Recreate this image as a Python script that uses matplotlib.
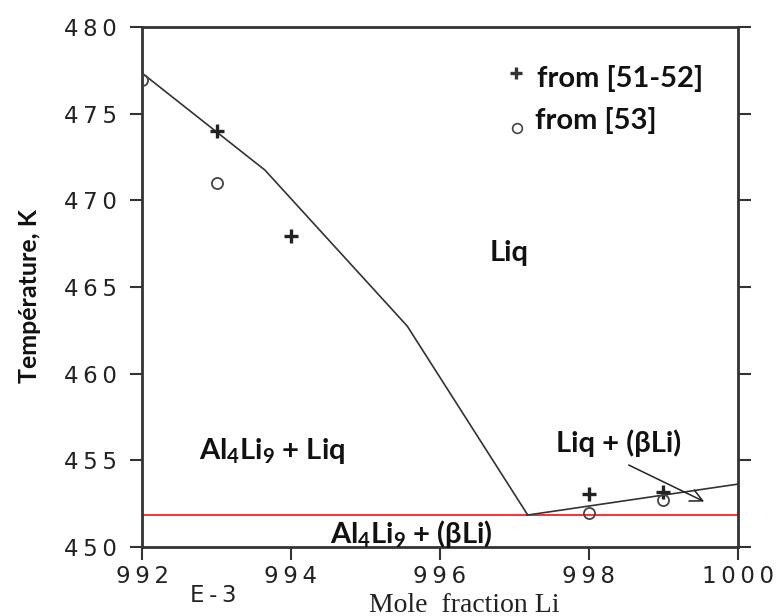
import numpy as np
import matplotlib.pyplot as plt
from matplotlib.ticker import FuncFormatter

plt.rcParams['mathtext.fontset'] = 'custom'
plt.rcParams['mathtext.rm'] = 'Lato:bold'
plt.rcParams['mathtext.it'] = 'Lato:bold'

# liquidus line (mole fraction Li in E-3, temperature K)
liq_x = [992.0, 993.65, 995.56, 997.17]
liq_t = [477.35, 471.75, 462.75, 451.9]
# Liq + (bLi) boundary
beta_x = [997.17, 1000.0]
beta_t = [451.84, 453.63]
# eutectic line
eut_t = 451.84

# experimental points
ref1_x = [993, 994, 998, 999]
ref1_t = [474.0, 467.95, 453.05, 453.15]
ref2_x = [992, 993, 998, 999]
ref2_t = [476.95, 471.0, 451.95, 452.7]

xticks = [992, 994, 996, 998, 1000]
yticks = [450, 455, 460, 465, 470, 475, 480]


def spaced(s):
    return '\u2009'.join(str(s))


fig = plt.figure(figsize=(7.76, 6.16), dpi=100)
ax = fig.add_axes([0.183, 0.112, 0.768, 0.844])

ax.axhline(eut_t, color='#ff2020', lw=1.3, zorder=1)
ax.plot(liq_x, liq_t, color='#333333', lw=1.2, zorder=2)
ax.plot(beta_x, beta_t, color='#333333', lw=1.2, zorder=2)
ax.plot(ref1_x, ref1_t, ls='none', marker='+', ms=10, mew=2.4, color='#222222', zorder=3)
ax.plot(ref2_x, ref2_t, ls='none', marker='o', ms=8, mfc='none', mew=1.3, color='#444444', zorder=3)

ax.set_xlim(992, 1000)
ax.set_ylim(450, 480)
ax.set_xticks(xticks)
ax.set_yticks(yticks)
ax.xaxis.set_major_formatter(FuncFormatter(lambda v, p: spaced(int(round(v)))))
ax.yaxis.set_major_formatter(FuncFormatter(lambda v, p: spaced(int(round(v)))))
for s in ax.spines.values():
    s.set_linewidth(2)
    s.set_color('#333333')
ax.tick_params(direction='out', length=9, width=1.5, color='#333333',
               labelsize=16.5, labelcolor='#222222')
ax.tick_params(axis='y', right=True, pad=9)
ax.tick_params(axis='x', pad=4)
for lab in ax.get_xticklabels() + ax.get_yticklabels():
    lab.set_family('DejaVu Sans')

bold = dict(family='Lato', fontweight='bold', fontsize=21, color='#111111')
ax.text(996.93, 466.95, 'Liq', ha='center', va='center', **bold)
ax.text(993.75, 455.55, r'Al$_4$Li$_9$ + Liq', ha='center', va='center', **bold)
ax.text(998.4, 456.0, 'Liq + (βLi)', ha='center', va='center', **bold)
ax.text(995.62, 450.75, r'Al$_4$Li$_9$ + (βLi)', ha='center', va='center', **bold)

ax.annotate('', xy=(999.58, 452.55), xytext=(998.5, 454.8),
            arrowprops=dict(arrowstyle='->', color='#222222', lw=1.1,
                            mutation_scale=22))

# legend
ax.plot([997.02], [477.35], ls='none', marker='+', ms=8, mew=2.4, color='#333333')
ax.plot([997.03], [474.17], ls='none', marker='o', ms=7, mfc='none', mew=1.2, color='#444444')
ax.text(997.3, 477.05, 'from [51-52]', ha='left', va='center', **bold)
ax.text(997.28, 474.6, 'from [53]', ha='left', va='center', **bold)

fig.text(30 / 776, 1 - 296 / 616, 'Température, K', rotation=90, ha='center', va='center',
         family='Lato', fontweight='bold', fontsize=18, color='#111111')
fig.text(213 / 776, 1 - 596 / 616, spaced('E-3'), ha='center', va='center',
         family='DejaVu Sans', fontsize=16.5, color='#222222')
fig.text(464 / 776, 1 - 605 / 616, 'Mole  fraction Li', ha='center', va='center',
         family='Liberation Serif', fontsize=20, color='#222222')

fig.savefig('out.png', dpi=100)
